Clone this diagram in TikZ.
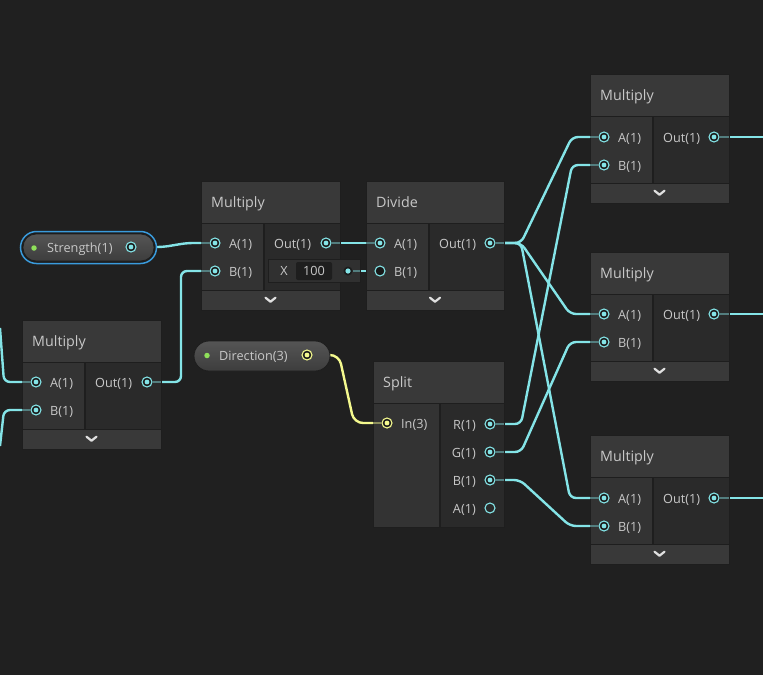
\documentclass[tikz,border=0pt]{standalone}
\usepackage{fontspec}
\setmainfont{Open Sans}
\pgfdeclarelayer{bgl}
\pgfdeclarelayer{wirel}
\pgfdeclarelayer{stubl}
\pgfdeclarelayer{topl}
\pgfsetlayers{bgl,wirel,main,stubl,topl}
\definecolor{bgc}{HTML}{202020}
\definecolor{titlec}{HTML}{393939}
\definecolor{incol}{HTML}{333333}
\definecolor{outcol}{HTML}{2A2A2A}
\definecolor{sepc}{HTML}{1E1E1E}
\definecolor{wirec}{HTML}{84E4E7}
\definecolor{wirey}{HTML}{F4F98E}
\definecolor{txt}{HTML}{C8C8C8}
\definecolor{pilltop}{HTML}{555555}
\definecolor{pillbot}{HTML}{3D3D3D}
\definecolor{selc}{HTML}{3A9BDC}
\definecolor{gdotc}{HTML}{8FE05A}
\definecolor{portbg}{HTML}{1C1C1C}
\definecolor{fieldc}{HTML}{303030}
\definecolor{valc}{HTML}{1E1E1E}
\tikzset{
  frame/.style={draw=sepc, fill=sepc, line width=0.6pt, inner sep=0pt, outer sep=0pt},
  lbl/.style={text=txt, font=\fontsize{12.7}{15}\selectfont, inner sep=0pt, text height=9pt, text depth=2.6pt},
  ttl/.style={text=txt, font=\fontsize{14.3}{16}\selectfont, inner sep=0pt, text height=10pt, text depth=2.8pt},
  chev/.style={draw=white!88!black, line width=2.2pt, line cap=round, line join=round},
  port/.style={circle, draw=wirec, fill=portbg, line width=1.1pt, minimum size=10pt, inner sep=0pt,
    path picture={\fill[wirec] (path picture bounding box.center) circle (2.4pt);}},
  yport/.style={circle, draw=wirey, fill=portbg, line width=1.1pt, minimum size=10pt, inner sep=0pt,
    path picture={\fill[wirey] (path picture bounding box.center) circle (2.4pt);}},
  eport/.style={circle, draw=wirec, fill=none, line width=1.1pt, minimum size=10pt, inner sep=0pt},
  dport/.style={circle, draw=wirec, fill=black!90, line width=1.1pt, minimum size=10pt, inner sep=0pt},
  xdot/.style={circle, fill=portbg, minimum size=9pt, inner sep=0pt,
    path picture={\fill[wirec] (path picture bounding box.center) circle (2.6pt);}},
  wire/.style={draw=wirec, line width=2.4pt, rounded corners=6pt, line join=round},
  ywire/.style={draw=wirey, line width=2.4pt, rounded corners=9pt, line join=round},
  stub/.style={draw=wirec!45!outcol, line width=2.4pt},
  ystub/.style={draw=wirey!45!incol, line width=2.4pt},
  pill/.style={rounded corners=13pt, top color=pilltop, bottom color=pillbot, draw=sepc, line width=0.8pt, inner sep=0pt},
  selring/.style={rounded corners=16pt, draw=selc, line width=1.5pt, fill=portbg, inner sep=0pt},
  gdot/.style={circle, fill=gdotc, minimum size=5.5pt, inner sep=0pt},
}
% #1 name, #2 x, #3 y, #4 w, #5 h, #6 input column width, #7 title, #8 chevron bar (1/0)
\newcommand{\sgframe}[8]{%
  \node[frame, minimum width=#4pt, minimum height=#5pt, anchor=north west] (#1) at (#2,#3) {};
  \begin{scope}[shift={(#2,#3)}]
    \fill[titlec] (0.5,0.5) rectangle (#4-0.5,42);
    \ifnum#8=1
      \fill[incol] (0.5,43.2) rectangle (#6,#5-20);
      \fill[outcol] (#6+2,43.2) rectangle (#4-0.5,#5-20);
      \fill[titlec] (0.5,#5-18.8) rectangle (#4-0.5,#5-0.5);
      \draw[chev] (#4/2-5,#5-12.3) -- (#4/2,#5-8.3) -- (#4/2+5,#5-12.3);
    \else
      \fill[incol] (0.5,43.2) rectangle (#6,#5-0.5);
      \fill[outcol] (#6+2,43.2) rectangle (#4-0.5,#5-0.5);
    \fi
    \node[ttl, anchor=west] (#1-t) at (10,22.5) {#7};
  \end{scope}}
\begin{document}
\begin{tikzpicture}[x=1pt,y=-1pt]
\useasboundingbox (0,0) rectangle (763,675);
\begin{pgfonlayer}{bgl}
  \fill[bgc] (0,0) rectangle (763,675);
\end{pgfonlayer}

% ---------- node frames ----------
\sgframe{mc}{201}{181}{139}{129}{62}{Multiply}{1}
\sgframe{dv}{366}{181}{138}{129}{62}{Divide}{1}
\sgframe{ml}{22}{320}{139}{129}{62}{Multiply}{1}
\sgframe{sp}{373}{361}{131}{166}{66}{Split}{0}
\sgframe{ma}{590}{74}{139}{129}{62}{Multiply}{1}
\sgframe{mb}{590}{252}{139}{129}{62}{Multiply}{1}
\sgframe{mm}{590}{435}{139}{129}{62}{Multiply}{1}

% ---------- property pills ----------
\node[selring, minimum width=136pt, minimum height=32pt] (strs) at (88.5,247.5) {};
\node[pill, minimum width=131pt, minimum height=27pt] (str) at (88.5,247.5) {};
\node[pill, minimum width=136pt, minimum height=30pt, rounded corners=15pt] (dir) at (262,356) {};

% ---------- inline value field ----------
\node[draw=sepc, fill=fieldc, minimum width=92pt, minimum height=23pt, inner sep=0pt] (xf) at (314,270.5) {};

\begin{pgfonlayer}{topl}
  % Strength / Direction
  \node[gdot] (str-g) at (34,248) {};
  \node[lbl, anchor=west] (str-l) at (47,249.5) {Strength(1)};
  \node[port] (str-p) at (131,247) {};
  \node[gdot] (dir-g) at (207,355.5) {};
  \node[lbl, anchor=west] (dir-l) at (219,357.5) {Direction(3)};
  \node[yport] (dir-p) at (307,355) {};
  % X field
  \node[lbl, anchor=center] (xf-x) at (284,272.5) {X};
  \node[fill=valc, rounded corners=2pt, minimum width=36pt, minimum height=18pt, inner sep=0pt] (xf-v) at (314,271) {};
  \node[lbl] (xf-n) at (314,272.5) {100};
  \node[xdot] (xf-d) at (348,271) {};
  % center Multiply
  \node[port] (mc-a) at (215,243) {};
  \node[lbl, anchor=west] (mc-al) at (229,245.5) {A(1)};
  \node[port] (mc-b) at (215,271) {};
  \node[lbl, anchor=west] (mc-bl) at (229,273.5) {B(1)};
  \node[lbl, anchor=west] (mc-ol) at (274,245.5) {Out(1)};
  \node[port] (mc-o) at (326,243) {};
  % Divide
  \node[port] (dv-a) at (380,243) {};
  \node[lbl, anchor=west] (dv-al) at (394,245.5) {A(1)};
  \node[dport] (dv-b) at (380,271) {};
  \node[lbl, anchor=west] (dv-bl) at (394,273.5) {B(1)};
  \node[lbl, anchor=west] (dv-ol) at (439,245.5) {Out(1)};
  \node[port] (dv-o) at (490,243) {};
  % left Multiply
  \node[port] (ml-a) at (36,382) {};
  \node[lbl, anchor=west] (ml-al) at (50,384.5) {A(1)};
  \node[port] (ml-b) at (36,410) {};
  \node[lbl, anchor=west] (ml-bl) at (50,412.5) {B(1)};
  \node[lbl, anchor=west] (ml-ol) at (95,384.5) {Out(1)};
  \node[port] (ml-o) at (147,382) {};
  % Split
  \node[yport] (sp-i) at (387,423) {};
  \node[lbl, anchor=west] (sp-il) at (401,425.5) {In(3)};
  \node[port] (sp-r) at (490,424) {};
  \node[lbl, anchor=east] (sp-rl) at (476,426.5) {R(1)};
  \node[port] (sp-g) at (490,452) {};
  \node[lbl, anchor=east] (sp-gl) at (476,454.5) {G(1)};
  \node[port] (sp-b) at (490,480) {};
  \node[lbl, anchor=east] (sp-bl) at (476,482.5) {B(1)};
  \node[eport] (sp-x) at (490,508) {};
  \node[lbl, anchor=east] (sp-xl) at (476,510.5) {A(1)};
  % right Multiply 1
  \node[port] (ma-a) at (604,137) {};
  \node[lbl, anchor=west] (ma-al) at (618,139.5) {A(1)};
  \node[port] (ma-b) at (604,165) {};
  \node[lbl, anchor=west] (ma-bl) at (618,167.5) {B(1)};
  \node[lbl, anchor=west] (ma-ol) at (663,139.5) {Out(1)};
  \node[port] (ma-o) at (714,137) {};
  % right Multiply 2
  \node[port] (mb-a) at (604,314) {};
  \node[lbl, anchor=west] (mb-al) at (618,316.5) {A(1)};
  \node[port] (mb-b) at (604,342) {};
  \node[lbl, anchor=west] (mb-bl) at (618,344.5) {B(1)};
  \node[lbl, anchor=west] (mb-ol) at (663,316.5) {Out(1)};
  \node[port] (mb-o) at (714,314) {};
  % right Multiply 3
  \node[port] (mm-a) at (604,498) {};
  \node[lbl, anchor=west] (mm-al) at (618,500.5) {A(1)};
  \node[port] (mm-b) at (604,526) {};
  \node[lbl, anchor=west] (mm-bl) at (618,528.5) {B(1)};
  \node[lbl, anchor=west] (mm-ol) at (663,500.5) {Out(1)};
  \node[port] (mm-o) at (714,498) {};
\end{pgfonlayer}

% free ends
\coordinate (in1) at (0,328);
\coordinate (in2) at (0,446);
\coordinate (e1) at (770,137);
\coordinate (e2) at (770,314);
\coordinate (e3) at (770,498);

% ---------- stubs inside nodes ----------
\begin{pgfonlayer}{stubl}
  \draw[stub] (mc-a) -- (mc.west |- mc-a);
  \draw[stub] (mc-b) -- (mc.west |- mc-b);
  \draw[stub] (mc-o) -- (mc.east |- mc-o);
  \draw[stub] (dv-a) -- (dv.west |- dv-a);
  \draw[stub] (dv-o) -- (dv.east |- dv-o);
  \draw[stub] (ml-a) -- (ml.west |- ml-a);
  \draw[stub] (ml-b) -- (ml.west |- ml-b);
  \draw[stub] (ml-o) -- (ml.east |- ml-o);
  \draw[ystub] (sp-i) -- (sp.west |- sp-i);
  \draw[stub] (sp-r) -- (sp.east |- sp-r);
  \draw[stub] (sp-g) -- (sp.east |- sp-g);
  \draw[stub] (sp-b) -- (sp.east |- sp-b);
  \draw[stub] (ma-a) -- (ma.west |- ma-a);
  \draw[stub] (ma-b) -- (ma.west |- ma-b);
  \draw[stub] (ma-o) -- (ma.east |- ma-o);
  \draw[stub] (mb-a) -- (mb.west |- mb-a);
  \draw[stub] (mb-b) -- (mb.west |- mb-b);
  \draw[stub] (mb-o) -- (mb.east |- mb-o);
  \draw[stub] (mm-a) -- (mm.west |- mm-a);
  \draw[stub] (mm-b) -- (mm.west |- mm-b);
  \draw[stub] (mm-o) -- (mm.east |- mm-o);
  \draw[stub] (xf-d) -- (xf.east |- xf-d);
\end{pgfonlayer}

% ---------- wires ----------
\begin{pgfonlayer}{wirel}
  \draw[wire] (str-p) -- (163,247) -- (187,243) -- (mc-a);
  \draw[wire] (ml-o) -- (181,382) -- (181,271) -- (mc-b);
  \draw[wire] (mc-o) -- (dv-a);
  \draw[wire] (xf-d) -- (dv-b);
  \draw[wire] (in1) -- (4,382) -- (ml-a);
  \draw[wire] (in2) -- (4,410) -- (ml-b);
  \draw[ywire] (dir-p) -- (339,355) -- (354,423) -- (sp-i);
  \draw[wire] (dv-o) -- (521,243) -- (572,137) -- (ma-a);
  \draw[wire] (dv-o) -- (521,243) -- (570,314) -- (mb-a);
  \draw[wire] (dv-o) -- (521,243) -- (570,498) -- (mm-a);
  \draw[wire] (sp-r) -- (521,424) -- (572,165) -- (ma-b);
  \draw[wire] (sp-g) -- (521,452) -- (570,342) -- (mb-b);
  \draw[wire] (sp-b) -- (520,480) -- (570,526) -- (mm-b);
  \draw[wire] (ma-o) -- (e1);
  \draw[wire] (mb-o) -- (e2);
  \draw[wire] (mm-o) -- (e3);
\end{pgfonlayer}
\end{tikzpicture}
\end{document}
